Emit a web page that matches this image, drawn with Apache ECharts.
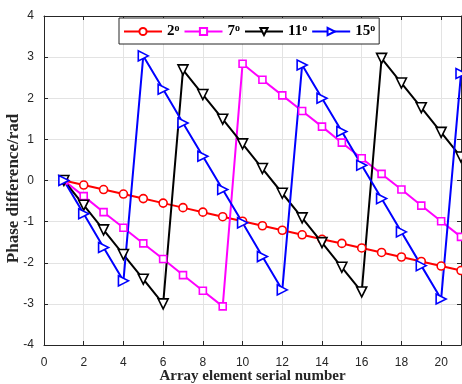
<!DOCTYPE html>
<html>
<head>
<meta charset="utf-8">
<script src="https://cdn.jsdelivr.net/npm/echarts@6/dist/echarts.min.js"></script>
<style>
  html, body { margin: 0; padding: 0; background: #fff; }
  #chart { width: 462px; height: 384px; }
</style>
</head>
<body>
<div id="chart"></div>
<script>
// array element index 1..21
const elements = [1, 2, 3, 4, 5, 6, 7, 8, 9, 10, 11, 12, 13, 14, 15, 16, 17, 18, 19, 20, 21]

// phase difference (rad)
const phase2 = [0, -0.11, -0.22, -0.33, -0.44, -0.55, -0.66, -0.77, -0.88, -0.99, -1.10,
  -1.21, -1.32, -1.43, -1.53, -1.64, -1.75, -1.86, -1.97, -2.08, -2.19]
const phase7 = [0, -0.38, -0.77, -1.15, -1.53, -1.91, -2.30, -2.68, -3.06, 2.84, 2.45,
  2.07, 1.69, 1.31, 0.92, 0.54, 0.16, -0.22, -0.61, -0.99, -1.37]
const phase11 = [0, -0.60, -1.20, -1.80, -2.40, -3.00, 2.69, 2.09, 1.49, 0.89, 0.29,
  -0.31, -0.91, -1.51, -2.11, -2.71, 2.97, 2.37, 1.77, 1.17, 0.57]
const phase15 = [0, -0.81, -1.63, -2.44, 3.03, 2.22, 1.40, 0.59, -0.22, -1.03, -1.85,
  -2.66, 2.81, 2.00, 1.19, 0.37, -0.44, -1.25, -2.07, -2.88, 2.60]

const angleLabels = ['2', '7', '11', '15']

const pairs = (ys) => elements.map((x, i) => [x, ys[i]])

const chart = echarts.init(document.getElementById('chart'), null, { renderer: 'canvas' })

function makeSeries(name, color, data, symbol, size, rotate) {
  return {
    name,
    type: 'line',
    data: pairs(data),
    symbol,
    symbolSize: size,
    symbolRotate: rotate,
    showAllSymbol: true,
    lineStyle: { color, width: 2 },
    itemStyle: { color: '#fff', borderColor: color, borderWidth: 1.6 },
    emphasis: { disabled: true },
    animation: false,
    z: 3,
  }
}

const ink = '#262626'
const tickFont = { color: ink, fontSize: 12, fontFamily: 'Liberation Sans' }
const gridLine = { show: true, lineStyle: { color: '#e3e3e3', width: 1 } }
const frameLine = { show: true, onZero: false, lineStyle: { color: ink } }
const innerTick = { show: true, inside: true, length: 4, lineStyle: { color: ink } }

chart.setOption({
  animation: false,
  grid: { left: 44, right: 1, top: 16, bottom: 39, outerBoundsMode: 'none' },
  legend: {
    top: 18,
    left: 119,
    itemWidth: 38,
    itemHeight: 9,
    itemGap: 4,
    padding: [5, 4, 5, 4],
    borderColor: ink,
    borderWidth: 1,
    backgroundColor: '#fff',
    formatter: (name) => '{n|' + name + '}{s|o}',
    textStyle: {
      rich: {
        n: { fontFamily: 'Liberation Serif', fontWeight: 'bold', fontSize: 15, color: '#000' },
        s: { fontFamily: 'Liberation Serif', fontWeight: 'bold', fontSize: 10, color: '#000', verticalAlign: 'top', padding: [0, 0, 7, 0] },
      },
    },
    data: angleLabels,
  },
  xAxis: [
    {
      type: 'value', min: 0, max: 21, interval: 2,
      name: 'Array element serial number', nameLocation: 'middle', nameGap: 24,
      nameMoveOverlap: false,
      nameTextStyle: { fontFamily: 'Liberation Serif', fontWeight: 'bold', fontSize: 15, color: ink },
      axisLine: frameLine,
      axisTick: innerTick,
      axisLabel: { ...tickFont, margin: 12, showMaxLabel: false },
      splitLine: gridLine,
    },
    {
      type: 'value', min: 0, max: 21, interval: 2, position: 'top',
      axisLine: frameLine,
      axisTick: innerTick,
      axisLabel: { show: false },
      splitLine: { show: false },
    },
  ],
  yAxis: [
    {
      type: 'value', min: -4, max: 4, interval: 1,
      name: 'Phase difference/rad', nameLocation: 'middle', nameGap: 22,
      nameMoveOverlap: false,
      nameTextStyle: { fontFamily: 'Liberation Serif', fontWeight: 'bold', fontSize: 17, color: ink, padding: [0, 16, 0, 0] },
      axisLine: frameLine,
      axisTick: innerTick,
      axisLabel: { ...tickFont, margin: 10 },
      splitLine: gridLine,
    },
    {
      type: 'value', min: -4, max: 4, interval: 1, position: 'right',
      axisLine: frameLine,
      axisTick: innerTick,
      axisLabel: { show: false },
      splitLine: { show: false },
    },
  ],
  series: [
    makeSeries('2', '#ff0000', phase2, 'circle', 8, 0),
    makeSeries('7', '#ff00ff', phase7, 'rect', 7, 0),
    makeSeries('11', '#000000', phase11, 'triangle', 10, 180),
    makeSeries('15', '#0000ff', phase15, 'triangle', 10, -90),
  ],
})
</script>
</body>
</html>
